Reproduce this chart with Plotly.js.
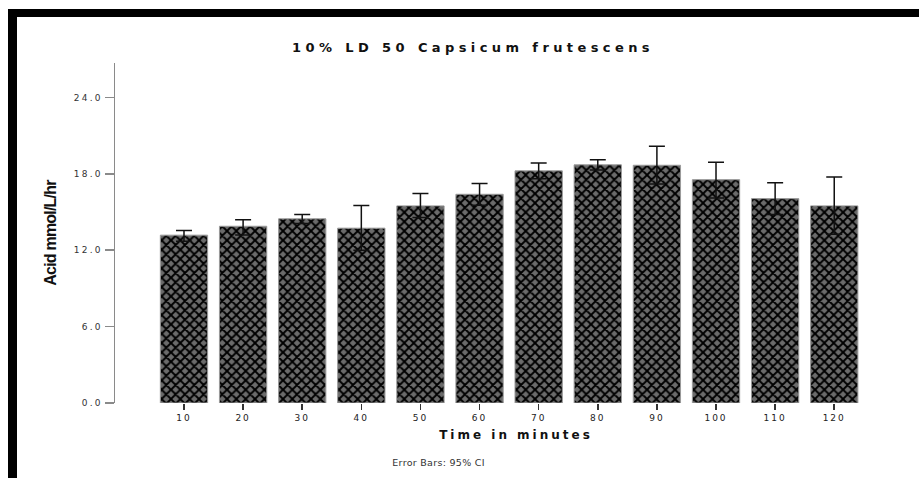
<!DOCTYPE html>
<html>
<head>
<meta charset="utf-8">
<script src="https://cdn.plot.ly/plotly-3.0.1.min.js"></script>
<style>
  html, body { margin: 0; padding: 0; background: #fff; }
  #wrap { position: relative; width: 919px; height: 478px; overflow: hidden; }
  #chart { position: absolute; left: 0; top: 0; width: 919px; height: 478px; }
  .frame { position: absolute; background: #000; pointer-events: none; }
  #chart .gtitle { letter-spacing: 4.4px; }
  #chart .g-xtitle text { letter-spacing: 3px; }
  #chart .g-ytitle text { letter-spacing: -0.8px; }
  #chart .ytick text { letter-spacing: 2.2px; }
  #chart .xtick text { letter-spacing: 2px; }
  #chart .annotation-text { letter-spacing: 0.3px; }
</style>
</head>
<body>
<div id="wrap">
  <div id="chart"></div>
  <div class="frame" style="left:8px; top:9px; width:911px; height:8px;"></div>
  <div class="frame" style="left:8px; top:9px; width:9px; height:469px;"></div>
</div>
<script>
// ---- data ----
var times = ['10', '20', '30', '40', '50', '60', '70', '80', '90', '100', '110', '120'];
var meanAcid = [13.18, 13.88, 14.46, 13.73, 15.48, 16.39, 18.23, 18.70, 18.67, 17.54, 16.05, 15.48];
var ciUpper  = [13.54, 14.40, 14.80, 15.50, 16.45, 17.23, 18.85, 19.10, 20.16, 18.90, 17.30, 17.75];
var ciLower  = [12.70, 13.20, 14.10, 12.00, 14.56, 15.53, 17.62, 18.30, 17.20, 16.10, 14.80, 13.25];
var yTickVals = [0, 6, 12, 18, 24];
var yTickText = ['0.0', '6.0', '12.0', '18.0', '24.0'];

var errPlus = meanAcid.map(function (m, i) { return ciUpper[i] - m; });
var errMinus = meanAcid.map(function (m, i) { return m - ciLower[i]; });

var trace = {
  type: 'bar',
  x: times,
  y: meanAcid,
  marker: {
    color: '#6b6b6b',
    line: { color: '#9a9a9a', width: 1 },
    pattern: { shape: 'x', size: 6.6, solidity: 0.5, fgcolor: '#000000', bgcolor: '#6b6b6b', fillmode: 'replace' }
  },
  error_y: {
    type: 'data',
    symmetric: false,
    array: errPlus,
    arrayminus: errMinus,
    color: '#111111',
    thickness: 1.5,
    width: 8
  },
  hoverinfo: 'x+y'
};

// plot area in pixels (for placing the footnote)
var L = 115, R = 917, T = 63, B = 403;

var layout = {
  width: 919,
  height: 478,
  margin: { l: L, r: 919 - R, t: T, b: 478 - B },
  paper_bgcolor: '#ffffff',
  plot_bgcolor: '#ffffff',
  showlegend: false,
  bargap: 0.2,
  title: {
    text: '10% LD 50 Capsicum frutescens',
    font: { family: 'DejaVu Sans', size: 13, color: '#111', weight: 'bold' },
    x: 473 / 919, xref: 'container', xanchor: 'center',
    y: (478 - 47) / 478, yref: 'container', yanchor: 'middle'
  },
  xaxis: {
    type: 'category',
    range: [-1.167, 12.4],
    showline: false,
    showgrid: false,
    zeroline: false,
    ticks: 'outside',
    ticklen: 6,
    tickwidth: 1.5,
    tickcolor: '#333',
    tickfont: { family: 'DejaVu Sans', size: 9, color: '#222' },
    title: {
      text: 'Time in minutes',
      font: { family: 'DejaVu Sans', size: 12, color: '#111', weight: 'bold' },
      standoff: 8
    },
    automargin: false,
    fixedrange: true
  },
  yaxis: {
    range: [0, 26.7],
    tickvals: yTickVals,
    ticktext: yTickText,
    showline: true,
    linecolor: '#8a8a8a',
    linewidth: 1.5,
    showgrid: false,
    zeroline: false,
    ticks: 'outside',
    ticklen: 9,
    tickwidth: 1.5,
    tickcolor: '#8a8a8a',
    tickfont: { family: 'DejaVu Sans', size: 9, color: '#333' },
    title: {
      text: 'Acid mmol/L/hr',
      font: { family: 'Liberation Sans Narrow, Liberation Sans, Arial', size: 16, color: '#111', weight: 'bold' },
      standoff: 22
    },
    automargin: false,
    fixedrange: true
  },
  annotations: [{
    text: 'Error Bars: 95% CI',
    xref: 'paper', yref: 'paper',
    x: (438 - L) / (R - L),
    y: (B - 462) / (B - T),
    xanchor: 'center', yanchor: 'middle',
    showarrow: false,
    font: { family: 'DejaVu Sans', size: 9.5, color: '#333' }
  }]
};

Plotly.newPlot('chart', [trace], layout, { displayModeBar: false, staticPlot: true });
</script>
</body>
</html>
